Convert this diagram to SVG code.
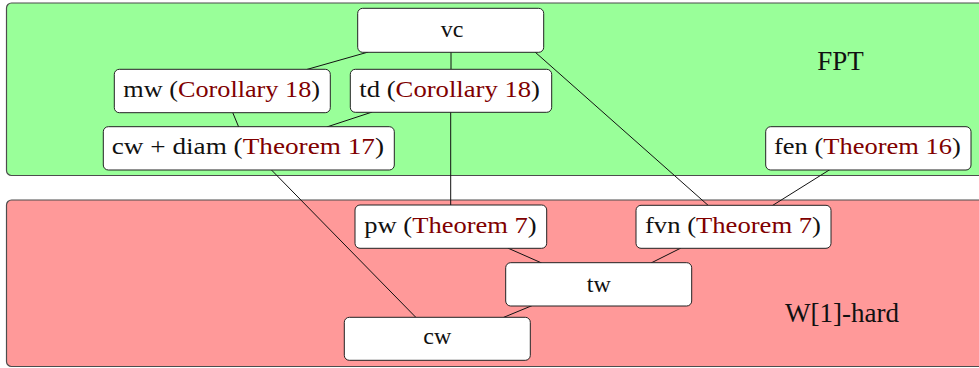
<svg xmlns="http://www.w3.org/2000/svg" width="979" height="368" viewBox="0 0 979 368">
<style>
.region{stroke:#4d4d4d;stroke-width:1.2}
.fpt{fill:#99ff99}
.w1{fill:#ff9999}
.node rect{fill:#ffffff;stroke:#222222;stroke-width:1}
text{font-size:24px;fill:#111111}
.ref{fill:#800000}
.big{font-size:27px}
#connectors line{stroke:#111111;stroke-width:1}
</style>
<g id="regions" font-family="'Liberation Serif', 'Times New Roman', serif">
<rect class="region fpt" x="6.5" y="3" width="985" height="172.5" rx="5"/>
<rect class="region w1" x="6.5" y="200" width="985" height="166.5" rx="5"/>
<text class="big" x="840.5" y="70" text-anchor="middle">FPT</text>
<text class="big" x="842" y="321.7" text-anchor="middle" textLength="114" lengthAdjust="spacingAndGlyphs">W[1]-hard</text>
</g>
<g id="connectors">
<line x1="368.3" y1="52" x2="306.7" y2="69.5"/>
<line x1="451" y1="52" x2="451" y2="69.5"/>
<line x1="535" y1="52" x2="708.3" y2="205.5"/>
<line x1="450.7" y1="112" x2="450.7" y2="205.5"/>
<line x1="372.3" y1="112" x2="326.7" y2="127"/>
<line x1="232.7" y1="112.5" x2="238.7" y2="127"/>
<line x1="271" y1="169.5" x2="416" y2="317.5"/>
<line x1="830" y1="169.5" x2="771.7" y2="206"/>
<line x1="507.7" y1="248" x2="541.7" y2="263"/>
<line x1="681" y1="248" x2="651" y2="263"/>
<line x1="532.3" y1="305.5" x2="503.3" y2="317.5"/>
</g>
<g id="nodes" font-family="'Liberation Serif', 'Times New Roman', serif">
<g id="vc" class="node">
<rect x="357.7" y="8.3" width="186" height="44" rx="5"/>
<text x="452" y="36.7" text-anchor="middle">vc</text>
</g>
<g id="mw" class="node">
<rect x="114.3" y="69.3" width="216" height="43.4" rx="5"/>
<text x="123.3" y="97" textLength="196.7" lengthAdjust="spacingAndGlyphs">mw (<tspan class="ref">Corollary 18</tspan>)</text>
</g>
<g id="td" class="node">
<rect x="350.3" y="69.3" width="201.4" height="43" rx="5"/>
<text x="359.3" y="97" textLength="180.7" lengthAdjust="spacingAndGlyphs">td (<tspan class="ref">Corollary 18</tspan>)</text>
</g>
<g id="cwdiam" class="node">
<rect x="103.3" y="126.7" width="291" height="43.3" rx="5"/>
<text x="111.7" y="154" textLength="272.3" lengthAdjust="spacingAndGlyphs">cw + diam (<tspan class="ref">Theorem 17</tspan>)</text>
</g>
<g id="fen" class="node">
<rect x="765.7" y="126.7" width="205.3" height="43.3" rx="5"/>
<text x="774" y="154" textLength="186.7" lengthAdjust="spacingAndGlyphs">fen (<tspan class="ref">Theorem 16</tspan>)</text>
</g>
<g id="pw" class="node">
<rect x="355" y="205" width="191.7" height="43.3" rx="5"/>
<text x="364.3" y="233.3" textLength="172.4" lengthAdjust="spacingAndGlyphs">pw (<tspan class="ref">Theorem 7</tspan>)</text>
</g>
<g id="fvn" class="node">
<rect x="636" y="205.3" width="195" height="43" rx="5"/>
<text x="645" y="233.3" textLength="176" lengthAdjust="spacingAndGlyphs">fvn (<tspan class="ref">Theorem 7</tspan>)</text>
</g>
<g id="tw" class="node">
<rect x="505.7" y="262.7" width="186" height="43.3" rx="5"/>
<text x="598.8" y="291.7" text-anchor="middle">tw</text>
</g>
<g id="cw" class="node">
<rect x="344.3" y="317.3" width="186" height="43" rx="5"/>
<text x="437.3" y="344.3" text-anchor="middle">cw</text>
</g>
</g>
</svg>
